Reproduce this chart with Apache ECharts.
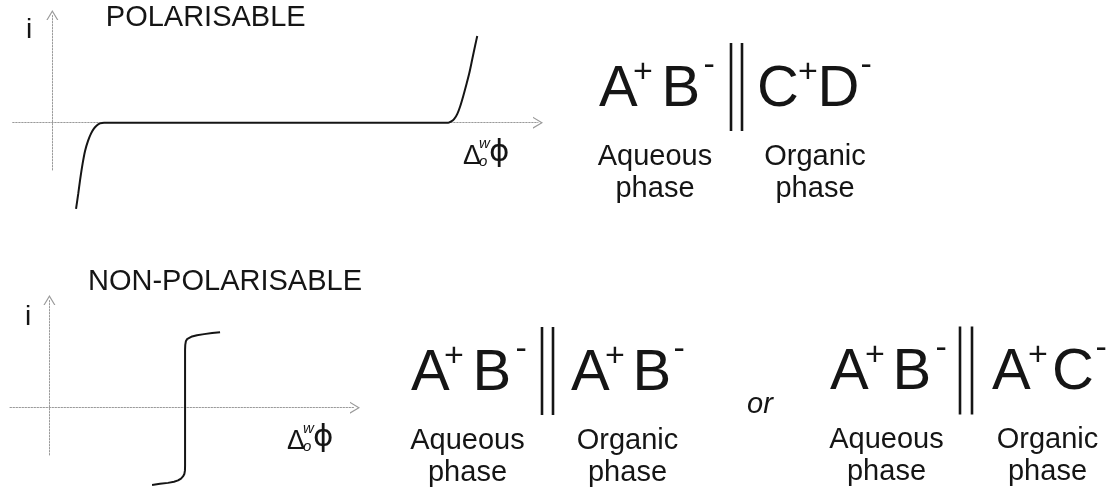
<!DOCTYPE html>
<html>
<head>
<meta charset="utf-8">
<script src="https://cdn.jsdelivr.net/npm/echarts@6/dist/echarts.min.js"></script>
<style>html,body{margin:0;padding:0;background:#fff}#c{width:1115px;height:495px}</style>
</head>
<body>
<div id="c"></div>
<script>
// ---------- data (arbitrary units) ----------
// current i versus interfacial potential difference, polarisable interface
const polarisableCurve = [
  [0.239,-0.801],[0.261,-0.662],[0.280,-0.532],[0.305,-0.383],[0.330,-0.263],
  [0.360,-0.170],[0.391,-0.100],[0.421,-0.054],[0.451,-0.024],[0.481,-0.007],
  [0.522,0],[3.995,0],[4.025,0.011],[4.055,0.034],[4.086,0.081],[4.116,0.155],
  [4.146,0.248],[4.176,0.350],[4.207,0.461],[4.237,0.591],[4.267,0.721],[4.287,0.805]
];
// non-polarisable interface
const nonPolarisableCurve = [
  [1.041,-0.718],[1.122,-0.708],[1.203,-0.699],[1.264,-0.688],[1.305,-0.676],
  [1.335,-0.659],[1.355,-0.639],[1.369,-0.616],[1.375,-0.583],[1.376,-0.537],
  [1.376,0.537],[1.378,0.583],[1.384,0.616],[1.396,0.636],[1.416,0.650],
  [1.447,0.661],[1.497,0.673],[1.569,0.683],[1.650,0.693],[1.731,0.701]
];
const titles = ['POLARISABLE', 'NON-POLARISABLE'];
const yAxisName = 'i';
const potentialSymbol = ['\u0394', 'w', 'o', '\u03D5'];
const orWord = 'or';
const phaseNames = ['Aqueous\nphase', 'Organic\nphase'];
// each formula: [left ion pair, right ion pair], ion = [letter, charge]
const formulaPolarisable = [[['A','+'],['B','-']], [['C','+'],['D','-']]];
const formulaNonPol1 = [[['A','+'],['B','-']], [['A','+'],['B','-']]];
const formulaNonPol2 = [[['A','+'],['B','-']], [['A','+'],['C','-']]];

// ---------- layout ----------
const FONT = '"Liberation Sans", Arial, sans-serif';
const INK = '#151515';
const AX = '#9a9a9a';
const chevron = 'path://M0,10 L6,0 L12,10 L10.7,10 L6,2.2 L1.3,10 Z';
const MID = 0.3465; // canvas middle baseline offset (em) for Liberation Sans

function axisCommon(min, max) {
  return {
    type: 'value', min: min, max: max,
    axisLine: { show: true, onZero: true, symbol: ['none', chevron], symbolSize: [12, 10],
      lineStyle: { color: AX, width: 1, type: [1.5, 1.5] } },
    axisTick: { show: false }, axisLabel: { show: false }, splitLine: { show: false }
  };
}

const g = [];
function txt(t, x, baseline, size, opts) {
  opts = opts || {};
  const fam = opts.family || FONT;
  const mid = opts.mid != null ? opts.mid : MID;
  g.push({ type: 'text', x: x, y: baseline - mid * size, silent: true,
    style: { text: t, font: (opts.style || '') + ' ' + size + 'px ' + fam, fill: INK,
      align: opts.align || 'left', verticalAlign: 'middle' } });
}
function bar(x, y1, y2) {
  g.push({ type: 'line', silent: true, shape: { x1: x, y1: y1, x2: x, y2: y2 },
    style: { stroke: INK, lineWidth: 2.6 } });
}
// draw a formula; xs = x of [L1, L1sup, L2, L2sup, bar1, bar2, R1, R1sup, R2, R2sup]
function formula(f, base, xs, labelCenters) {
  const ions = [f[0][0], f[0][1], f[1][0], f[1][1]];
  const idx = [[0,1],[2,3],[6,7],[8,9]];
  ions.forEach(function (ion, k) {
    txt(ion[0], xs[idx[k][0]], base, 58);
    const supBase = ion[1] === '+' ? base - 26 : base - 33;
    txt(ion[1], xs[idx[k][1]], supBase, 34);
  });
  bar(xs[4], base - 67, base + 21);
  bar(xs[5], base - 67, base + 21);
  phaseNames.forEach(function (n, k) {
    g.push({ type: 'text', x: labelCenters[k], y: base + 57 - MID * 29 + 16, silent: true,
      style: { text: n, font: '29px ' + FONT, fill: INK, align: 'center',
        verticalAlign: 'middle', lineHeight: 32 } });
  });
}
function potLabel(x, axisY) {
  txt(potentialSymbol[0], x, axisY + 43, 27);
  txt(potentialSymbol[1], x + 16, axisY + 26, 15, { style: 'italic' });
  txt(potentialSymbol[2], x + 16, axisY + 44, 15, { style: 'italic' });
  g.push({ type: 'text', x: x + 26, y: axisY + 30, silent: true,
    style: { text: potentialSymbol[3], font: '31px "DejaVu Sans", sans-serif', fill: INK,
      align: 'left', verticalAlign: 'middle' } });
}

txt(titles[0], 105.8, 28.5, 29);
txt(titles[1], 88, 291.7, 29);
txt(yAxisName, 26, 40, 28);
txt(yAxisName, 25, 327, 28);
potLabel(463, 122.7);
potLabel(287, 408);
formula(formulaPolarisable, 110, [599, 633, 661.6, 703.6, 731, 742, 757, 798, 817.4, 860.6], [655, 815]);
formula(formulaNonPol1, 394, [411, 444, 472.6, 515.6, 542, 553, 571, 605, 632.6, 673.6], [467.5, 627.5]);
formula(formulaNonPol2, 393.5, [830, 865, 892.6, 935.6, 960, 972, 992, 1028, 1052, 1095.6], [886.5, 1047.5]);
txt(orWord, 747, 415, 29, { style: 'italic' });

const chart = echarts.init(document.getElementById('c'), null, { renderer: 'canvas' });
chart.setOption({
  animation: false,
  backgroundColor: '#fff',
  grid: [
    { left: 12.7, top: 15, width: 525.3, height: 155, outerBoundsMode: 'none', containLabel: false },
    { left: 10, top: 300, width: 345, height: 155, outerBoundsMode: 'none', containLabel: false }
  ],
  xAxis: [
    Object.assign(axisCommon(-0.4, 4.9), { gridIndex: 0 }),
    Object.assign(axisCommon(-0.4, 3.1), { gridIndex: 1 })
  ],
  yAxis: [
    Object.assign(axisCommon(-0.44, 1), { gridIndex: 0 }),
    Object.assign(axisCommon(-0.44, 1), { gridIndex: 1 })
  ],
  series: [
    { type: 'line', xAxisIndex: 0, yAxisIndex: 0, data: polarisableCurve, symbol: 'none',
      smooth: 0.3, clip: false, lineStyle: { color: INK, width: 2 }, z: 5 },
    { type: 'line', xAxisIndex: 1, yAxisIndex: 1, data: nonPolarisableCurve, symbol: 'none',
      smooth: false, clip: false, lineStyle: { color: INK, width: 2 }, z: 5 }
  ],
  graphic: { elements: g }
});
</script>
</body>
</html>
